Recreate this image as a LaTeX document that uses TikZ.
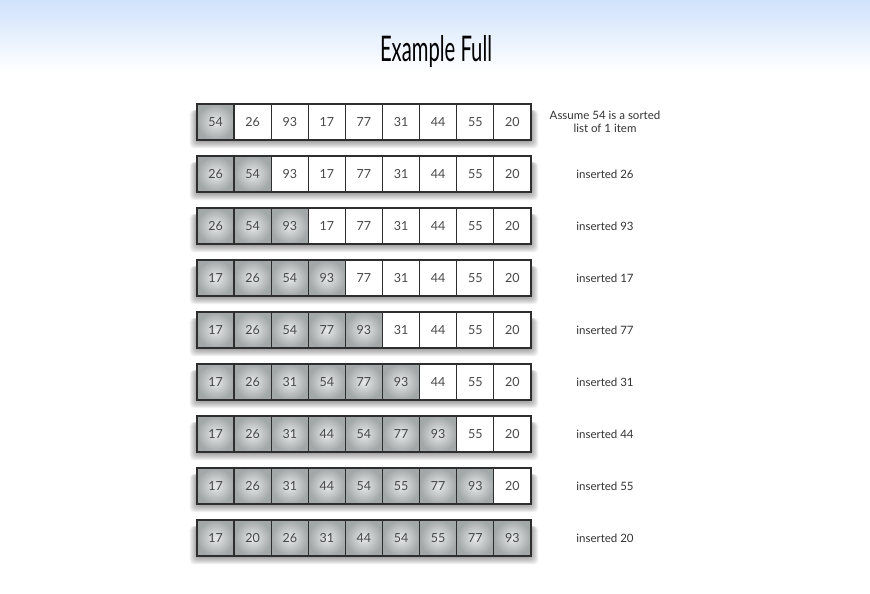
\documentclass[tikz,border=0pt]{standalone}
\usepackage{fontspec}
\setmainfont{Lato}
\usepackage{graphicx}
\definecolor{topblue}{HTML}{D0E2FC}
\definecolor{celltext}{HTML}{484848}
\definecolor{cellborder}{HTML}{2E2E2E}
\definecolor{cellin}{HTML}{E8EAEA}
\definecolor{cellout}{HTML}{A2A7A7}
\begin{document}
\begin{tikzpicture}[x=1pt,y=-1pt,
  cellbox/.style={draw=cellborder,line width=1.3pt,minimum width=37.1pt,minimum height=36pt,inner sep=0pt,
    text=celltext,font=\fontsize{12.5}{14}\selectfont,anchor=center},
  sortedcell/.style={cellbox,shading=radial,inner color=cellin,outer color=cellout},
  opencell/.style={cellbox,fill=white},
  steplabel/.style={text=black!80,font=\fontsize{11.5}{13}\selectfont,align=center},
  titletext/.style={text=black}]
\useasboundingbox (0,0) rectangle (870,594);
\shade[top color=topblue,bottom color=white] (0,0) rectangle (870,72);
\node[titletext] (title) at (436,52) {\resizebox{112pt}{26pt}{Example Full}};
\foreach \r/\k/\vals/\lab in {
  1/1/{54,26,93,17,77,31,44,55,20}/{Assume 54 is a sorted\\list of 1 item},
  2/2/{26,54,93,17,77,31,44,55,20}/{inserted 26},
  3/3/{26,54,93,17,77,31,44,55,20}/{inserted 93},
  4/4/{17,26,54,93,77,31,44,55,20}/{inserted 17},
  5/5/{17,26,54,77,93,31,44,55,20}/{inserted 77},
  6/6/{17,26,31,54,77,93,44,55,20}/{inserted 31},
  7/7/{17,26,31,44,54,77,93,55,20}/{inserted 44},
  8/8/{17,26,31,44,54,55,77,93,20}/{inserted 55},
  9/9/{17,20,26,31,44,54,55,77,93}/{inserted 20}}{
  \pgfmathsetmacro\yc{122+52*(\r-1)}
  % soft shadow under the row
  \foreach \s in {1,...,8}{
    \fill[black,opacity=0.05,rounded corners=4pt] (197-\s*0.9,\yc-12) rectangle (531+\s*0.9,\yc+19+\s*0.9);
  }
  \foreach \v [count=\i] in \vals {
    \pgfmathsetmacro\xc{197+37.1*(\i-0.5)}
    \ifnum\i>\k
      \node[opencell] (c-\r-\i) at (\xc,\yc) {\v};
    \else
      \node[sortedcell] (c-\r-\i) at (\xc,\yc) {\v};
    \fi
  }
  \node[steplabel] (lab-\r) at (605,\yc) {\lab};
}
\end{tikzpicture}
\end{document}
